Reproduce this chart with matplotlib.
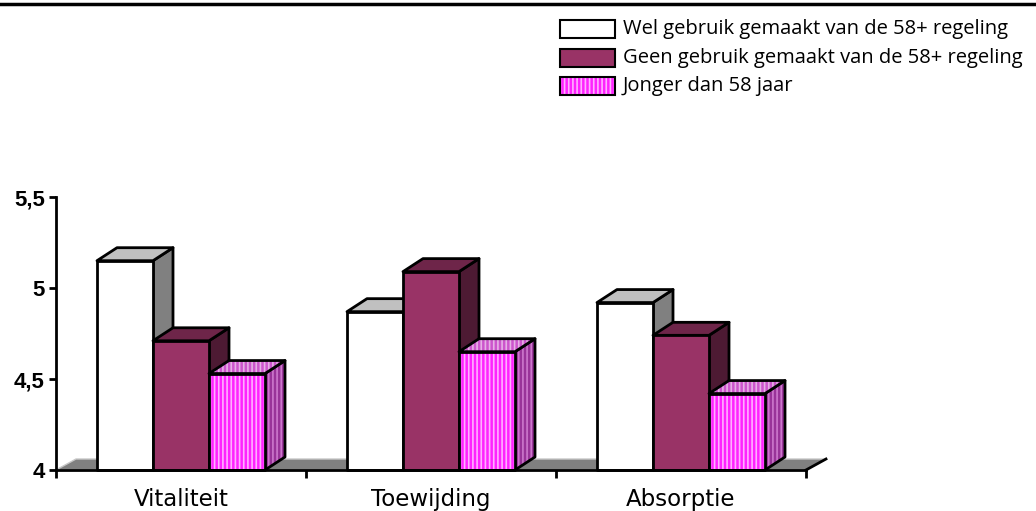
import matplotlib.pyplot as plt
from matplotlib.patches import Polygon, Rectangle
from matplotlib.lines import Line2D

categories = ['Vitaliteit', 'Toewijding', 'Absorptie']
series_names = ['Wel gebruik gemaakt van de 58+ regeling',
                'Geen gebruik gemaakt van de 58+ regeling',
                'Jonger dan 58 jaar']
wel = [5.15, 4.87, 4.92]
geen = [4.71, 5.09, 4.74]
jonger = [4.53, 4.65, 4.42]
yticks = [4, 4.5, 5, 5.5]
ytick_labels = ['4', '4,5', '5', '5,5']

# face, top, side colours (and hatch colours for the striped series)
styles = [
    dict(face='#ffffff', top='#c0c0c0', side='#808080', hatch=None),
    dict(face='#993366', top='#6e2549', side='#4d1a33', hatch=None),
    dict(face='#ff22ff', top='#cc55cc', side='#993399', hatch='#ffb0ff',
         top_hatch='#e6b0e6', side_hatch='#cc77cc'),
]

plt.rcParams['hatch.linewidth'] = 1.2

fig = plt.figure(figsize=(10.36, 5.11), dpi=100)
ax = fig.add_axes([56 / 1036, 41 / 511, 750 / 1036, 273 / 511])
ax.set_xlim(0, 3)
ax.set_ylim(4, 5.5)

dx = 20 / 250          # depth in x units
dy = 13 / 182          # depth in y units
w = 0.224
base = 4


def poly(pts, fc, hc=None, z=2):
    if hc is None:
        ax.add_patch(Polygon(pts, closed=True, facecolor=fc, edgecolor='black',
                             lw=2, joinstyle='round', clip_on=False, zorder=z))
    else:
        ax.add_patch(Polygon(pts, closed=True, facecolor=fc, edgecolor=hc,
                             hatch='||||', lw=0, clip_on=False, zorder=z))
        ax.add_patch(Polygon(pts, closed=True, fill=False, edgecolor='black',
                             lw=2, joinstyle='round', clip_on=False, zorder=z))


# floor
fd = 11 / 182
ax.add_patch(Polygon([(0, base), (3, base), (3 + dx, base + fd), (dx, base + fd)],
                     closed=True, facecolor='#808080', edgecolor='#c8c8c8', lw=1,
                     clip_on=False, zorder=1))
ax.add_line(Line2D([3, 3 + dx], [base, base + fd], color='black', lw=2,
                   clip_on=False, zorder=1))

for i in range(len(categories)):
    for j, vals in enumerate([wel, geen, jonger]):
        s = styles[j]
        x0 = i + 0.5 + (j - 1) * w - w / 2
        x1 = x0 + w
        v = vals[i]
        z = 2 + j
        front = [(x0, base), (x1, base), (x1, v), (x0, v)]
        top = [(x0, v), (x1, v), (x1 + dx, v + dy), (x0 + dx, v + dy)]
        side = [(x1, base), (x1 + dx, base + dy), (x1 + dx, v + dy), (x1, v)]
        poly(side, s['side'], s.get('side_hatch'), z)
        poly(top, s['top'], s.get('top_hatch'), z)
        poly(front, s['face'], s['hatch'], z)

for sp in ['top', 'right']:
    ax.spines[sp].set_visible(False)
ax.spines['left'].set_linewidth(2)
ax.spines['bottom'].set_linewidth(2)
ax.spines['left'].set_zorder(10)
ax.spines['bottom'].set_zorder(10)

ax.set_yticks(yticks)
ax.set_yticklabels(ytick_labels, fontsize=16, fontweight='bold',
                   family='Liberation Sans')
ax.tick_params(axis='y', length=5, width=2, pad=3)
ax.set_xticks([0, 1, 2, 3])
ax.set_xticklabels([])
ax.set_xticks([0.5, 1.5, 2.5], minor=True)
ax.set_xticklabels(categories, minor=True, fontsize=16.5, family='DejaVu Sans')
ax.tick_params(axis='x', which='minor', length=0, pad=13)
ax.tick_params(axis='x', which='major', length=6, width=2)

# top rule
fig.add_artist(Line2D([0, 1], [1 - 4 / 511, 1 - 4 / 511], color='black', lw=2.5))

# legend
for k, name in enumerate(series_names):
    s = styles[k]
    yc = 1 - (29 + 28.5 * k) / 511
    rect_kw = dict(xy=(560 / 1036, yc - 9 / 511), width=55 / 1036, height=18 / 511,
                   transform=fig.transFigure)
    if s['hatch'] is None:
        fig.add_artist(Rectangle(facecolor=s['face'], edgecolor='black', lw=1.5, **rect_kw))
    else:
        fig.add_artist(Rectangle(facecolor=s['face'], edgecolor=s['hatch'], hatch='||||',
                                 lw=0, **rect_kw))
        fig.add_artist(Rectangle(fill=False, edgecolor='black', lw=1.5, **rect_kw))
    fig.text(623 / 1036, yc, name, fontsize=14.5, va='center', ha='left',
             family='Open Sans')

fig.savefig('out.png', dpi=100)
